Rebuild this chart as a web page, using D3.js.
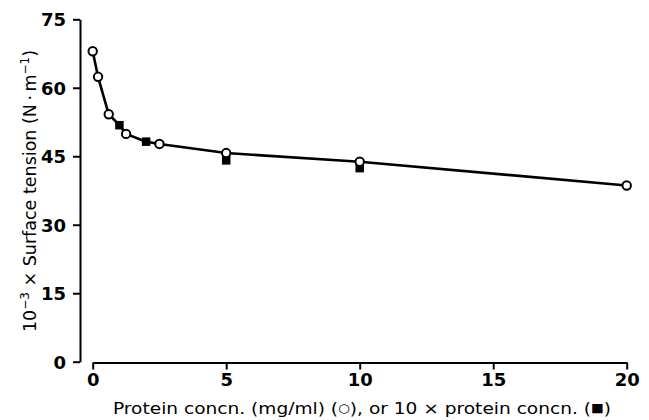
<!DOCTYPE html>
<html><head><meta charset="utf-8">
<script src="https://cdn.jsdelivr.net/npm/d3@7"></script>
<style>body{margin:0;background:#fff}svg{display:block}text{font-family:"DejaVu Sans",sans-serif;fill:#000}</style>
</head><body><svg id="c" width="649" height="420"></svg>
<script>
// Protein concentration (mg/ml), open circles
const circleX = [0, 0.2, 0.6, 1.25, 2.5, 5, 10, 20];
const circleY = [68, 62.4, 54.2, 49.9, 47.7, 45.7, 43.8, 38.6];
// 10 x protein concentration, filled squares
const squareX = [1, 2, 5, 10];
const squareY = [51.8, 48.2, 44.1, 42.4];
const xTicks = [0, 5, 10, 15, 20];
const yTicks = [0, 15, 30, 45, 60, 75];

const svg = d3.select("#c");
const x = d3.scaleLinear().domain([0, 20]).range([92.7, 626.7]);
const y = d3.scaleLinear().domain([0, 75]).range([361.7, 19.3]);

const tickFont = "DejaVu Sans, sans-serif";

// y axis
const ya = svg.append("g").attr("transform", "translate(80,0)")
  .call(d3.axisLeft(y).tickValues(yTicks).tickSize(7).tickPadding(7).tickSizeOuter(0));
ya.select(".domain").attr("stroke-width", 2);
ya.selectAll(".tick line").attr("stroke-width", 2);
ya.selectAll(".tick text").attr("font-size", 18).attr("font-weight", "bold")
  .attr("font-family", tickFont).attr("dy", "0.36em");

// x axis
const xa = svg.append("g").attr("transform", "translate(0,362.5)")
  .call(d3.axisBottom(x).tickValues(xTicks).tickSize(7).tickPadding(4).tickSizeOuter(0));
xa.select(".domain").attr("stroke-width", 2);
xa.selectAll(".tick line").attr("stroke-width", 2);
xa.selectAll(".tick text").attr("font-size", 18).attr("font-weight", "bold")
  .attr("font-family", tickFont);

// line through combined points (circle kept where both exist)
const pts = circleX.map((v, i) => ({x: v, y: circleY[i]}));
squareX.forEach((v, i) => { if (!circleX.includes(v)) pts.push({x: v, y: squareY[i]}); });
pts.sort((a, b) => a.x - b.x);
svg.append("path").datum(pts)
  .attr("fill", "none").attr("stroke", "#000").attr("stroke-width", 2.6)
  .attr("d", d3.line().x(d => x(d.x)).y(d => y(d.y)));

// squares
const s = 8.5;
svg.selectAll("rect.sq").data(squareX.map((v, i) => ({x: v, y: squareY[i]}))).join("rect")
  .attr("class", "sq").attr("x", d => x(d.x) - s / 2).attr("y", d => y(d.y) - s / 2)
  .attr("width", s).attr("height", s).attr("fill", "#000");

// circles
svg.selectAll("circle.ci").data(circleX.map((v, i) => ({x: v, y: circleY[i]}))).join("circle")
  .attr("class", "ci").attr("cx", d => x(d.x)).attr("cy", d => y(d.y)).attr("r", 4.2)
  .attr("fill", "#fff").attr("stroke", "#000").attr("stroke-width", 2);

// y title
const yt = svg.append("text").attr("transform", "translate(36,191) rotate(-90)")
  .attr("text-anchor", "middle").attr("font-size", 17.5);
yt.append("tspan").text("10");
yt.append("tspan").attr("dy", -7).attr("font-size", 12).text("\u22123");
yt.append("tspan").attr("dy", 7).text(" \u00d7 Surface tension (N\u2009\u00b7\u2009m");
yt.append("tspan").attr("dy", -7).attr("font-size", 12).text("\u22121");
yt.append("tspan").attr("dy", 7).text(")");

// x title
const xt = svg.append("text").attr("x", 362).attr("y", 414).attr("text-anchor", "middle")
  .attr("font-size", 16.5).attr("textLength", 498).attr("lengthAdjust", "spacingAndGlyphs");
xt.append("tspan").text("Protein concn. (mg/ml) (");
xt.append("tspan").attr("font-size", 12).attr("dy", -2).text("\u25cb");
xt.append("tspan").attr("dy", 2).text("), or 10 \u00d7 protein concn. (");
xt.append("tspan").attr("font-size", 12).attr("dy", -2).text("\u25a0");
xt.append("tspan").attr("dy", 2).text(")");
</script></body></html>
